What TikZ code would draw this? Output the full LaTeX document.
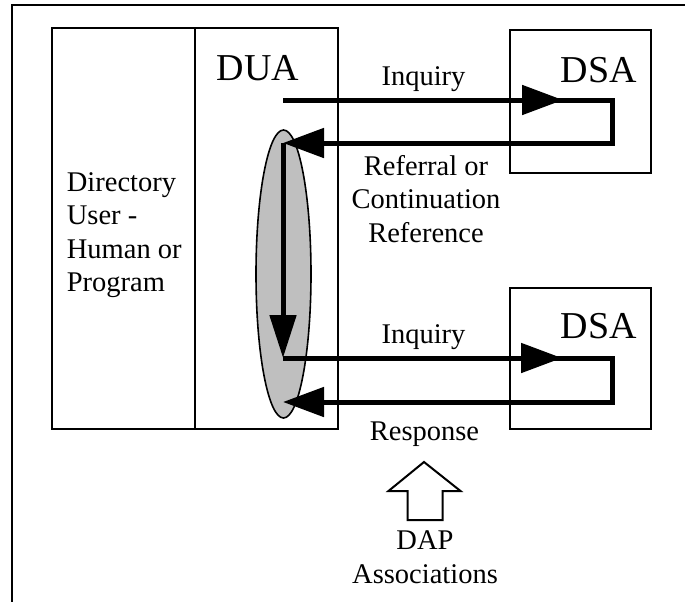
\documentclass[tikz,border=0pt]{standalone}
\usepackage{fontspec}
\setmainfont{Liberation Serif}
\usetikzlibrary{arrows.meta,shapes.geometric}

\tikzset{
  frameline/.style={line width=2pt},
  boxline/.style={draw, line width=1.8pt, rectangle, inner sep=0pt},
  lbl/.style={inner sep=0pt, font=\fontsize{28.5}{33.5}\selectfont},
  big/.style={inner sep=0pt, font=\fontsize{38}{44}\selectfont},
  flow/.style={line width=5pt},
  head/.style={-{Triangle[length=41pt,width=29pt]}},
  vhead/.style={-{Triangle[length=43pt,width=26pt]}},
  bus/.style={ellipse, draw, line width=1.6pt, fill=black!25,
              minimum width=55pt, minimum height=288pt, inner sep=0pt},
  hollow/.style={draw, line width=2pt, fill=white, line join=miter}
}

\begin{document}
\begin{tikzpicture}[x=1pt, y=-1pt]
\useasboundingbox (0,0) rectangle (685,602);

% page frame (open at right and bottom)
\draw[frameline] (12,602) -- (12,5) -- (685,5);

% directory user and its agent
\node[boxline, minimum width=143pt, minimum height=401pt] (user) at (123.5,228.5) {};
\node[boxline, minimum width=143pt, minimum height=401pt] (dua) at (266.5,228.5) {};
% multi-line nodes sit on the baseline of their last line
\node[lbl, anchor=base west, align=left] (usertext) at (66.7,291.5)
  {Directory\\User -\\Human or\\Program};
\node[big, anchor=base] (dualabel) at (258,81) {DUA};

% directory system agents
\node[boxline, minimum width=141pt, minimum height=143pt] (dsa1) at (580.5,101.5) {};
\node[boxline, minimum width=141pt, minimum height=141pt] (dsa2) at (580.5,358.5) {};
\node[big, anchor=base] (dsa1label) at (599,82) {DSA};
\node[big, anchor=base] (dsa2label) at (599,338) {DSA};

% association ellipse
\node[bus] (assoc) at (283.5,274) {};

% exchange points
\coordinate (s1) at (283,100);
\coordinate (m1) at (563,100);
\coordinate (r1) at (612,143);
\coordinate (e1) at (283,143);
\coordinate (s2) at (283,358);
\coordinate (m2) at (562,358);
\coordinate (r2) at (612,402);
\coordinate (e2) at (283,402);

% first inquiry and referral
\draw[flow, head] (s1) -- (m1);
\draw[flow, head] (s1) -| (r1) -- (e1);
% follow the referral
\draw[flow, vhead] (e1) -- (s2);
% second inquiry and response
\draw[flow, head] (s2) -- (m2);
\draw[flow, head] (s2) -| (r2) -- (e2);

% labels
\node[lbl, anchor=base] (inq1) at (423.5,85) {Inquiry};
\node[lbl, anchor=base, align=center] (referral) at (426,242)
  {Referral or\\Continuation\\Reference};
\node[lbl, anchor=base] (inq2) at (423.5,343) {Inquiry};
\node[lbl, anchor=base] (response) at (424.5,440) {Response};

% DAP associations marker
\draw[hollow] (424,462) -- (460.5,491) -- (442.5,491) -- (442.5,520)
  -- (407.5,520) -- (407.5,491) -- (388.5,491) -- cycle;
\node[lbl, anchor=base, align=center] (dap) at (425,583) {DAP\\Associations};

\end{tikzpicture}
\end{document}
